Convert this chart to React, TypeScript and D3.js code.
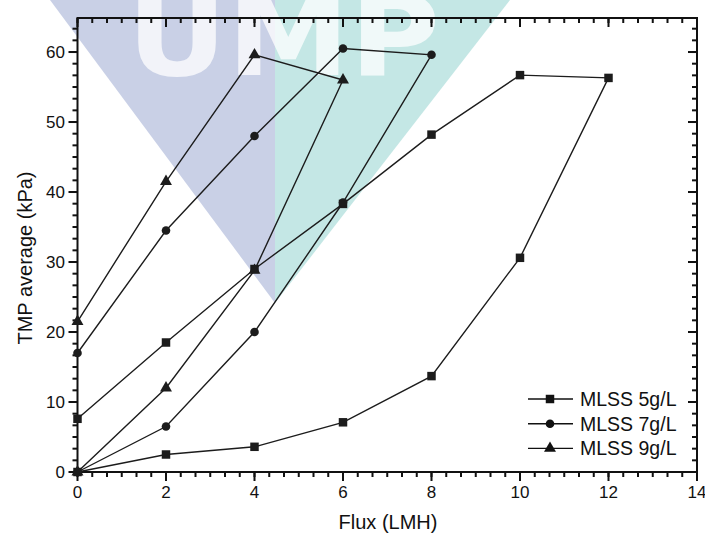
import * as React from "react";
import * as d3 from "d3";

// flux steps (up then down) and TMP readings for each MLSS level
const flux5 = [0, 2, 4, 6, 8, 10, 12, 10, 8, 6, 4, 2, 0];
const tmp5 = [0, 2.5, 3.6, 7.1, 13.7, 30.6, 56.3, 56.7, 48.2, 38.3, 29, 18.5, 7.6];
const flux7 = [0, 2, 4, 6, 8, 6, 4, 2, 0];
const tmp7 = [0, 6.5, 20, 38.5, 59.6, 60.5, 48, 34.5, 17];
const flux9 = [0, 2, 4, 6, 4, 2, 0];
const tmp9 = [0, 12, 28.8, 56, 59.6, 41.5, 21.5];

const seriesNames = ["MLSS 5g/L", "MLSS 7g/L", "MLSS 9g/L"];
const xTicks = [0, 2, 4, 6, 8, 10, 12, 14];
const yTicks = [0, 10, 20, 30, 40, 50, 60];

export default function App() {
  const ref = React.useRef<SVGSVGElement>(null);

  React.useEffect(() => {
    const svg = d3.select(ref.current);
    svg.selectAll("*").remove();

    const font = "'Liberation Sans', Arial, Helvetica, sans-serif";
    const ink = "#111";

    const x = d3.scaleLinear().domain([0, 14]).range([77.5, 697]);
    const y = d3.scaleLinear().domain([0, 64.86]).range([472, 18]);
    const x0 = x(0), x1 = x(14), y1 = y(64.86), y0 = y(0);

    // faint UMP watermark behind the plot
    const wm = svg.append("g");
    wm.append("polygon").attr("points", "50,0 275,0 275,303").attr("fill", "#c9d0e6");
    wm.append("polygon").attr("points", "275,0 510,0 275,303").attr("fill", "#c4e7e5");
    wm.append("text")
      .text("UMP")
      .attr("x", 127)
      .attr("y", 75)
      .attr("textLength", 313)
      .attr("lengthAdjust", "spacingAndGlyphs")
      .attr("font-family", "'DejaVu Sans', sans-serif")
      .attr("font-weight", "bold")
      .attr("font-size", 112)
      .attr("fill", "#ffffff")
      .attr("fill-opacity", 0.75);

    const minorX = d3.range(0, 14.001, 1 / 3);
    const minorY = d3.range(0, 64.86, 10 / 6);

    // tick marks: bottom/left outward, top/right inward
    const tickG = svg.append("g").attr("fill", ink);
    const addX = (vals: number[], len: number) => {
      vals.forEach((v) => {
        tickG.append("rect").attr("x", x(v) - 1).attr("y", y0).attr("width", 2).attr("height", len);
        tickG.append("rect").attr("x", x(v) - 1).attr("y", y1).attr("width", 2).attr("height", len);
      });
    };
    const addY = (vals: number[], len: number) => {
      vals.forEach((v) => {
        tickG.append("rect").attr("x", x0 - len).attr("y", y(v) - 1).attr("width", len).attr("height", 2);
        tickG.append("rect").attr("x", x1 - len).attr("y", y(v) - 1).attr("width", len).attr("height", 2);
      });
    };
    addX(minorX, 5);
    addX(xTicks, 9);
    addY(minorY, 5);
    addY(yTicks, 9);

    svg.append("g").selectAll("text").data(xTicks).enter().append("text")
      .text((d) => d)
      .attr("x", (d) => x(d)).attr("y", 498)
      .attr("text-anchor", "middle")
      .attr("font-family", font).attr("font-size", 17).attr("fill", ink);
    svg.append("g").selectAll("text").data(yTicks).enter().append("text")
      .text((d) => d)
      .attr("x", 65).attr("y", (d) => y(d)).attr("dy", "0.35em")
      .attr("text-anchor", "end")
      .attr("font-family", font).attr("font-size", 17).attr("fill", ink);

    svg.append("rect")
      .attr("x", x0).attr("y", y1)
      .attr("width", x1 - x0).attr("height", y0 - y1)
      .attr("fill", "none").attr("stroke", ink).attr("stroke-width", 2);

    const series = [
      { xs: flux5, ys: tmp5, shape: d3.symbolSquare, size: 72 },
      { xs: flux7, ys: tmp7, shape: d3.symbolCircle, size: 58 },
      { xs: flux9, ys: tmp9, shape: d3.symbolTriangle, size: 62 },
    ];

    const line = d3.line<[number, number]>().x((d) => x(d[0])).y((d) => y(d[1]));

    series.forEach((s) => {
      const pts: [number, number][] = s.xs.map((v, i) => [v, s.ys[i]]);
      svg.append("path")
        .attr("d", line(pts))
        .attr("fill", "none")
        .attr("stroke", "#1c1c1c")
        .attr("stroke-width", 1.4);
      svg.selectAll(null)
        .data(pts)
        .enter()
        .append("path")
        .attr("d", d3.symbol().type(s.shape).size(s.size)())
        .attr("transform", (d) => `translate(${x(d[0])},${y(d[1])})`)
        .attr("fill", "#1c1c1c");
    });

    // legend
    const legend = svg.append("g");
    series.forEach((s, i) => {
      const ly = 399 + i * 24.7;
      legend.append("line")
        .attr("x1", 528).attr("x2", 573).attr("y1", ly).attr("y2", ly)
        .attr("stroke", ink).attr("stroke-width", 1.4);
      legend.append("path")
        .attr("d", d3.symbol().type(s.shape).size(s.size)())
        .attr("transform", `translate(550,${ly})`)
        .attr("fill", ink);
      legend.append("text")
        .text(seriesNames[i])
        .attr("x", 580).attr("y", ly).attr("dy", "0.36em")
        .attr("font-family", font).attr("font-size", 19.5).attr("fill", ink);
    });

    // axis titles
    svg.append("text")
      .text("Flux (LMH)")
      .attr("x", 388).attr("y", 529)
      .attr("text-anchor", "middle")
      .attr("font-family", font).attr("font-size", 20).attr("fill", ink);
    svg.append("text")
      .text("TMP average (kPa)")
      .attr("transform", "translate(32,258) rotate(-90)")
      .attr("text-anchor", "middle")
      .attr("font-family", font).attr("font-size", 20).attr("fill", ink);
  }, []);

  return (
    <svg
      ref={ref}
      width={705}
      height={536}
      style={{ position: "absolute", left: 0, top: 0, background: "#fff" }}
    />
  );
}
